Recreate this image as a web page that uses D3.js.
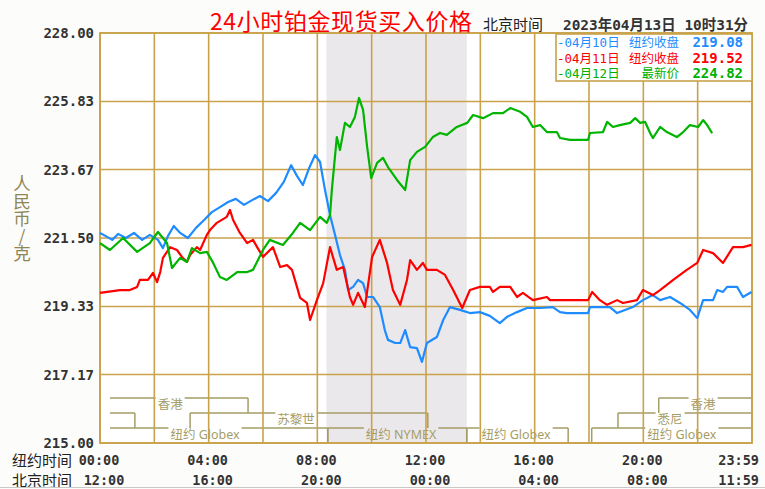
<!DOCTYPE html>
<html>
<head>
<meta charset="utf-8">
<script src="https://cdn.jsdelivr.net/npm/d3@7"></script>
<style>
body{margin:0;background:#fcfdfb;}
svg{display:block;}
</style>
</head>
<body>
<svg id="chart"></svg>
<script>
// minutes after 00:00 New York time, price in RMB per gram
var apr10 = [[0,221.66],[13,221.56],[27,221.44],[40,221.63],[57,221.50],[75,221.66],[93,221.44],[110,221.60],[128,221.44],[139,221.18],[150,221.56],[163,221.88],[177,221.66],[194,221.50],[212,221.82],[230,222.07],[247,222.32],[265,222.48],[283,222.64],[300,222.74],[318,222.55],[336,222.70],[353,222.83],[371,222.67],[389,222.93],[406,223.28],[422,223.81],[435,223.47],[448,223.18],[462,223.72],[475,224.13],[486,223.91],[497,223.02],[508,222.23],[519,221.60],[530,220.96],[541,220.49],[548,219.85],[559,219.95],[570,220.17],[581,220.07],[590,219.63],[603,219.63],[618,219.31],[629,218.58],[636,218.27],[652,218.17],[663,218.17],[674,218.58],[685,218.04],[700,218.01],[711,217.57],[722,218.17],[744,218.36],[758,218.90],[773,219.31],[795,219.22],[817,219.12],[839,219.15],[861,219.03],[883,218.80],[899,219.00],[921,219.15],[943,219.28],[972,219.28],[1000,219.31],[1016,219.15],[1031,219.12],[1078,219.12],[1082,219.31],[1126,219.31],[1142,219.12],[1177,219.31],[1199,219.53],[1221,219.69],[1237,219.53],[1259,219.63],[1281,219.44],[1303,219.22],[1319,218.96],[1332,219.53],[1354,219.53],[1363,219.85],[1376,219.79],[1385,219.95],[1407,219.95],[1420,219.63],[1439,219.79]];
var apr11 = [[0,219.76],[44,219.85],[66,219.85],[82,219.95],[88,220.17],[106,220.17],[117,220.39],[126,220.10],[133,220.42],[139,220.87],[155,221.21],[170,221.12],[181,220.90],[192,220.74],[199,220.96],[214,221.21],[221,221.12],[236,221.60],[243,221.75],[258,221.98],[280,222.17],[287,222.39],[294,222.07],[309,221.66],[325,221.34],[338,221.44],[347,221.21],[360,220.90],[382,221.21],[398,220.58],[413,220.64],[424,220.49],[435,219.95],[442,219.60],[457,219.44],[464,218.90],[479,219.53],[493,220.07],[508,221.21],[523,220.49],[537,220.58],[552,219.63],[559,219.38],[570,219.76],[585,219.31],[601,220.90],[618,221.44],[634,220.71],[647,219.85],[663,219.38],[678,220.17],[685,220.80],[700,220.49],[713,220.71],[722,220.49],[744,220.49],[762,220.33],[780,219.85],[800,219.28],[817,219.85],[839,219.95],[861,219.95],[868,219.79],[883,219.95],[906,219.95],[921,219.63],[934,219.76],[956,219.53],[987,219.63],[994,219.53],[1078,219.53],[1087,219.79],[1104,219.53],[1120,219.38],[1142,219.53],[1155,219.44],[1186,219.53],[1199,219.85],[1221,219.69],[1237,219.85],[1266,220.17],[1296,220.49],[1319,220.71],[1332,221.12],[1354,221.02],[1376,220.71],[1398,221.21],[1420,221.21],[1439,221.28]];
var apr12 = [[0,221.34],[22,221.12],[51,221.50],[82,221.06],[110,221.34],[128,221.69],[148,221.34],[159,220.55],[177,220.87],[192,220.74],[203,221.18],[221,221.02],[236,221.06],[250,220.71],[265,220.26],[280,220.17],[303,220.42],[325,220.42],[338,220.49],[360,221.12],[375,221.44],[404,221.28],[426,221.66],[442,221.98],[464,221.75],[486,222.17],[501,221.98],[508,222.23],[512,223.02],[523,224.70],[530,224.29],[541,225.15],[552,225.02],[563,225.34],[572,225.94],[581,225.56],[590,224.39],[599,223.40],[612,223.88],[625,224.04],[636,223.75],[656,223.34],[674,223.02],[685,223.97],[700,224.23],[718,224.39],[735,224.70],[751,224.83],[766,224.77],[788,225.02],[811,225.15],[824,225.40],[846,225.30],[868,225.46],[890,225.46],[906,225.62],[928,225.50],[943,225.34],[956,225.02],[972,225.08],[987,224.86],[1009,224.86],[1016,224.67],[1038,224.61],[1078,224.61],[1082,224.83],[1111,224.86],[1120,225.18],[1133,225.02],[1148,225.08],[1171,225.15],[1182,225.30],[1193,225.15],[1204,225.18],[1215,224.83],[1221,224.67],[1237,225.02],[1252,224.86],[1274,224.70],[1288,224.86],[1303,225.08],[1321,225.02],[1332,225.24],[1341,225.08],[1352,224.82]];

var yTicks = [228.00, 225.83, 223.67, 221.50, 219.33, 217.17, 215.00];
var nyTicks = ["00:00","04:00","08:00","12:00","16:00","20:00"];
var bjTicks = ["12:00","16:00","20:00","00:00","04:00","08:00"];
var legendRows = [
  ["-04月10日", "纽约收盘", "219.08", "#1e8cff"],
  ["-04月11日", "纽约收盘", "219.52", "#ff0000"],
  ["-04月12日", "最新价", "224.82", "#00b000"]
];
// market sessions, minutes in New York time (null = runs past the chart edge)
var sessions = [
  {name:"香港", row:0, start:null, end:327, at:155},
  {name:"", row:1, start:null, end:77, at:null},
  {name:"苏黎世", row:1, start:199, end:724, at:433},
  {name:"纽约 Globex", row:2, start:null, end:503, at:232},
  {name:"纽约 NYMEX", row:2, start:503, end:810, at:665},
  {name:"纽约 Globex", row:2, start:810, end:1034, at:919},
  {name:"纽约 Globex", row:2, start:1086, end:null, at:1285},
  {name:"悉尼", row:1, start:1144, end:null, at:1259},
  {name:"香港", row:0, start:1234, end:null, at:1332}
];
var nymex = [500, 810];

var W = 765, H = 489;
var pL = 100, pR = 752, pT = 33, pB = 443;
var gold = "#c9a24c", olive = "#a59d66";
var mono = "'DejaVu Sans Mono', 'Noto Sans CJK SC', monospace";
var cjk = "'Noto Sans CJK SC', sans-serif";

var svg = d3.select("#chart").attr("width", W).attr("height", H);

var x = d3.scaleLinear().domain([0, 1440]).range([pL, pR]);
var y = d3.scaleLinear().domain([215, 228]).range([pB, pT]);

svg.append("rect").attr("x", pL).attr("y", pT)
   .attr("width", pR-pL).attr("height", pB-pT).attr("fill", "#ffffff");

// NYMEX shading
svg.append("rect")
   .attr("x", x(nymex[0])).attr("y", pT)
   .attr("width", x(nymex[1]) - x(nymex[0])).attr("height", pB-pT)
   .attr("fill", "#ebe8ec");

// session brackets
var rowTop = [398, 413, 428], rowH = 15;
var sg = svg.append("g");
sessions.forEach(function(s){
  var ty = rowTop[s.row];
  var x0 = s.start == null ? pL+10 : x(s.start);
  var x1 = s.end == null ? pR : x(s.end);
  var g0 = x1, g1 = x1;
  if (s.name) {
    var lab = sg.append("text")
       .attr("x", x(s.at)).attr("y", ty + 11)
       .attr("text-anchor", "middle")
       .style("font-family", "'Noto Sans', 'Noto Sans CJK SC', sans-serif")
       .style("font-size", "12.5px")
       .attr("fill", olive)
       .text(s.name);
    var tw = lab.node().getComputedTextLength();
    g0 = x(s.at) - tw/2 - 2; g1 = x(s.at) + tw/2 + 2;
  }
  [[x0, g0], [g1, x1]].forEach(function(p){
    if (p[1] > p[0]) sg.append("line").attr("x1", p[0]).attr("x2", p[1])
       .attr("y1", ty).attr("y2", ty).attr("stroke", olive).attr("stroke-width", 1.5);
  });
  if (s.start != null) sg.append("line").attr("x1", x0).attr("x2", x0)
       .attr("y1", ty).attr("y2", ty+rowH).attr("stroke", olive).attr("stroke-width", 1.5);
  if (s.end != null) sg.append("line").attr("x1", x1).attr("x2", x1)
       .attr("y1", ty).attr("y2", ty+rowH).attr("stroke", olive).attr("stroke-width", 1.5);
});

// grid
svg.append("g").selectAll("line").data(d3.range(0, 1441, 120)).enter().append("line")
   .attr("x1", d=>x(d)).attr("x2", d=>x(d)).attr("y1", pT).attr("y2", pB)
   .attr("stroke", gold).attr("stroke-width", 1.6);
svg.append("g").selectAll("line").data(yTicks).enter().append("line")
   .attr("x1", pL).attr("x2", pR).attr("y1", d=>y(d)).attr("y2", d=>y(d))
   .attr("stroke", gold).attr("stroke-width", 1.6);
svg.append("rect").attr("x", pL).attr("y", pT)
   .attr("width", pR-pL).attr("height", pB-pT)
   .attr("fill", "none").attr("stroke", gold).attr("stroke-width", 1.8);

// y axis labels
var yAxis = d3.axisLeft(y).tickValues(yTicks).tickFormat(d3.format(".2f")).tickSize(0).tickPadding(6);
var ya = svg.append("g").attr("transform", "translate(" + pL + ",0)").call(yAxis);
ya.select(".domain").remove();
ya.selectAll("text").style("font-family", mono).style("font-size", "14px")
  .style("font-weight", "bold").attr("fill", "#333");

// y title, written top to bottom
svg.append("text").attr("x", 22).attr("y", 175).attr("fill", "#8f8656")
   .style("font-family", cjk).style("font-size", "17.5px")
   .style("writing-mode", "vertical-rl").style("text-orientation", "upright")
   .text("人民币/克");

// series
var line = d3.line().x(d=>x(d[0])).y(d=>y(d[1]));
[[apr10, "#1e8cff"], [apr11, "#ff0000"], [apr12, "#00b400"]].forEach(function(s){
  svg.append("path").datum(s[0]).attr("d", line)
     .attr("fill", "none").attr("stroke", s[1]).attr("stroke-width", 2.2)
     .attr("stroke-linejoin", "round");
});

// legend
svg.append("rect").attr("x", 556).attr("y", 34).attr("width", 196).attr("height", 47)
   .attr("fill", "#ffffff").attr("stroke", gold).attr("stroke-width", 1.6);
legendRows.forEach(function(r, i){
  var ly = 47 + i*15.5;
  svg.append("text").attr("x", 557).attr("y", ly).attr("fill", r[3])
     .style("font-family", mono).style("font-size", "12.5px").text(r[0]);
  svg.append("text").attr("x", 679).attr("y", ly).attr("fill", r[3]).attr("text-anchor", "end")
     .style("font-family", cjk).style("font-size", "12.5px").text(r[1]);
  svg.append("text").attr("x", 743).attr("y", ly).attr("fill", r[3]).attr("text-anchor", "end")
     .style("font-family", mono).style("font-size", "14px").style("font-weight", "bold").text(r[2]);
});

// title
svg.append("text").attr("x", 210).attr("y", 30).attr("fill", "#ff0000")
   .style("font-family", cjk).style("font-size", "23px")
   .attr("textLength", 262).text("24小时铂金现货买入价格");
svg.append("text").attr("x", 483).attr("y", 30).attr("fill", "#222")
   .style("font-family", cjk).style("font-size", "15px").text("北京时间");
svg.append("text").attr("x", 563).attr("y", 30).attr("fill", "#333")
   .style("font-family", mono).style("font-size", "14.5px").style("font-weight", "bold")
   .attr("textLength", 185).attr("lengthAdjust", "spacingAndGlyphs")
   .text("2023年04月13日 10时31分");

// bottom time labels
svg.append("text").attr("x", 12).attr("y", 466).attr("fill", "#222")
   .style("font-family", cjk).style("font-size", "15px").text("纽约时间");
svg.append("text").attr("x", 12).attr("y", 486).attr("fill", "#222")
   .style("font-family", cjk).style("font-size", "15px").text("北京时间");
svg.append("g").selectAll("text").data(nyTicks).enter().append("text")
   .attr("x", (d, i)=>x(i*240) - 1).attr("y", 465).attr("text-anchor", "middle")
   .style("font-family", mono).style("font-size", "13.5px").style("font-weight", "bold")
   .attr("fill", "#333").text(d=>d);
svg.append("g").selectAll("text").data(bjTicks).enter().append("text")
   .attr("x", (d, i)=>x(i*240) + 4).attr("y", 485).attr("text-anchor", "middle")
   .style("font-family", mono).style("font-size", "13.5px").style("font-weight", "bold")
   .attr("fill", "#333").text(d=>d);
svg.append("text").attr("x", 759).attr("y", 465).attr("text-anchor", "end")
   .style("font-family", mono).style("font-size", "13.5px").style("font-weight", "bold")
   .attr("fill", "#333").text("23:59");
svg.append("text").attr("x", 759).attr("y", 485).attr("text-anchor", "end")
   .style("font-family", mono).style("font-size", "13.5px").style("font-weight", "bold")
   .attr("fill", "#333").text("11:59");

svg.append("line").attr("x1", 0).attr("x2", W).attr("y1", 487.5).attr("y2", 487.5)
   .attr("stroke", "#c8c8c8").attr("stroke-width", 1);
</script>
</body>
</html>
